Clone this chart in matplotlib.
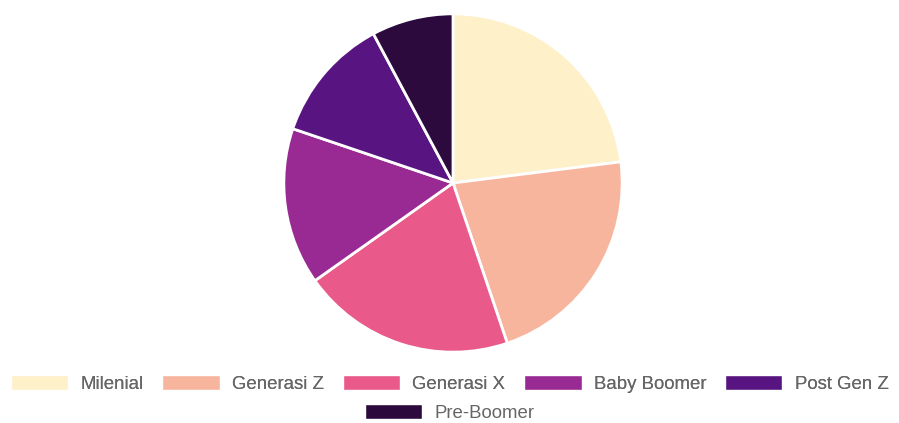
import matplotlib.pyplot as plt
from matplotlib.patches import Patch

# Data
labels = ['Milenial', 'Generasi Z', 'Generasi X', 'Baby Boomer', 'Post Gen Z', 'Pre-Boomer']
values = [23.0, 21.8, 20.4, 15.0, 12.0, 7.8]
colors = ['#FEF0C8', '#F8B59E', '#E9598A', '#9A2A93', '#581480', '#2C0A3E']

plt.rcParams['font.family'] = ['Liberation Sans', 'DejaVu Sans']

W, H = 899, 423
fig = plt.figure(figsize=(W / 100, H / 100), dpi=100)

# Pie axes: centre (453, 183), radius 170 px
cx, cy, r = 453, 183, 170
ax = fig.add_axes([(cx - r) / W, (H - cy - r) / H, 2 * r / W, 2 * r / H])
ax.pie(values, colors=colors, startangle=90, counterclock=False, radius=1,
       wedgeprops=dict(edgecolor='white', linewidth=2))
ax.set_xlim(-1.005, 1.005)
ax.set_ylim(-1.005, 1.005)
ax.set_aspect('equal')

# Legend: first row of five, second row with one (centred like Chart.js)
handles = [Patch(facecolor=c, edgecolor='white', linewidth=1) for c in colors]
common = dict(frameon=False, fontsize=13.4, handlelength=3.1, handleheight=0.85,
              handletextpad=0.65, columnspacing=1.0, labelcolor='#666666',
              borderaxespad=0, borderpad=0)
leg1 = fig.legend(handles[:5], labels[:5], ncol=5, loc='center',
                  bbox_to_anchor=(0.5, 1 - 384 / H), **common)
fig.add_artist(leg1)
fig.legend(handles[5:], labels[5:], ncol=1, loc='center',
           bbox_to_anchor=(0.5, 1 - 413 / H), **common)

fig.savefig('out.png', dpi=100)
